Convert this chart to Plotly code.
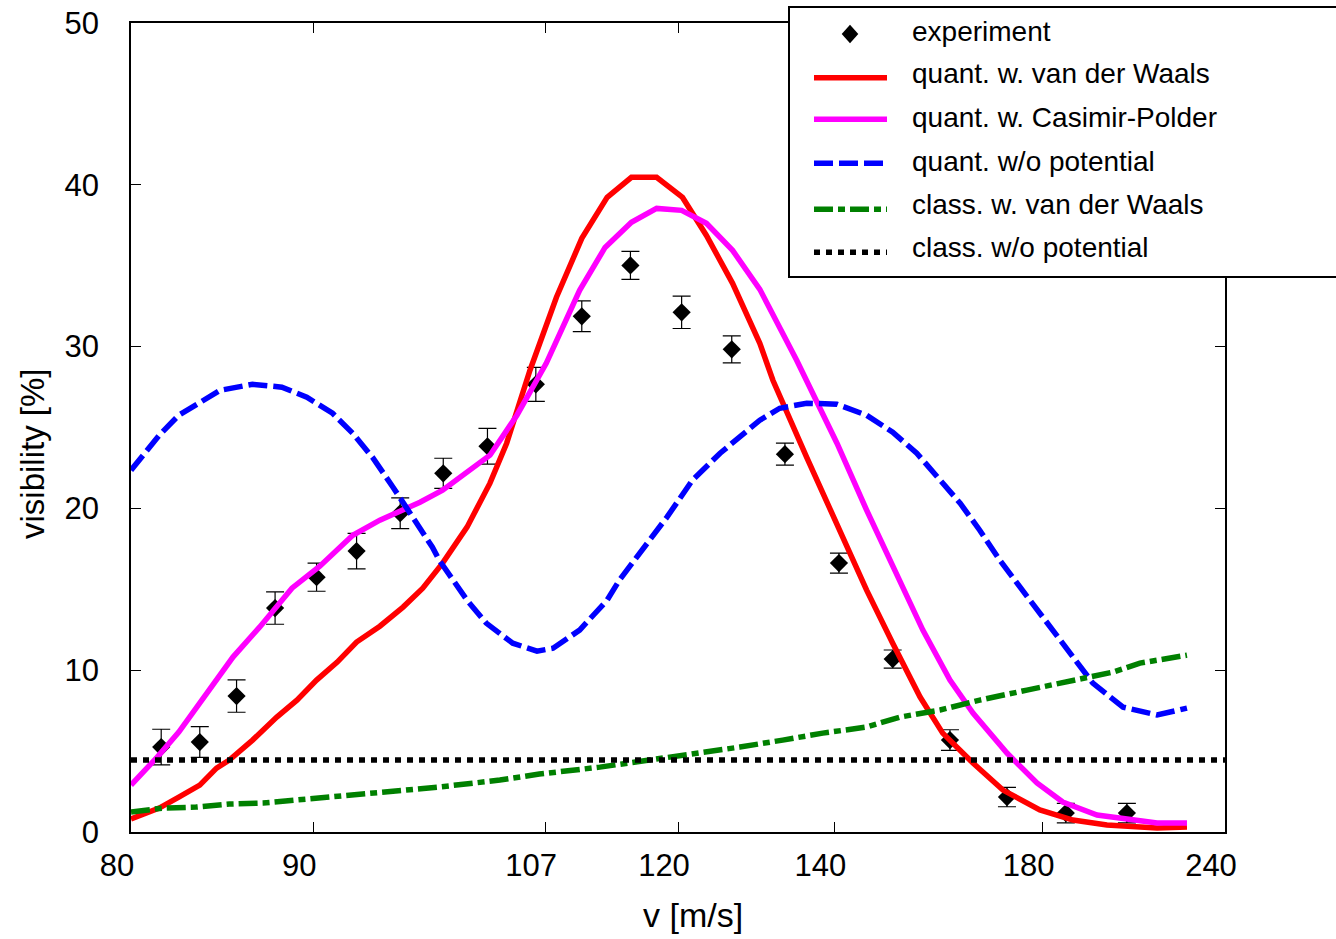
import plotly.graph_objects as go

FONT = "Liberation Sans, Arial, Helvetica, sans-serif"

# ---------------- data ----------------
# measured fringe visibility (%) with statistical errors
exp_v = [81.5, 83.5, 85.5, 87.7, 90.2, 92.75, 95.7, 98.8, 102.2, 106.2, 110.3,
         115.0, 120.4, 126.2, 133.0, 140.7, 149.3, 159.7, 171.6, 185.9, 203.5]
exp_vis = [5.25, 5.56, 8.40, 13.84, 15.75, 17.36, 19.70, 22.17, 23.84, 27.67, 31.87,
           35.02, 32.12, 29.83, 23.35, 16.62, 10.69, 5.68, 2.16, 1.17, 1.17]
exp_err = [1.1, 0.95, 1.0, 1.0, 0.87, 1.1, 0.95, 0.93, 1.1, 1.05, 0.95,
           0.87, 1.0, 0.83, 0.68, 0.62, 0.56, 0.64, 0.6, 0.6, 0.6]

# quantum model with van der Waals potential
vdw_v = [80.0, 81.4, 82.4, 83.5, 84.4, 85.1, 86.4, 87.8, 89.0, 90.2,
         91.5, 92.75, 94.3, 95.9, 97.3, 98.75, 100.6, 102.4, 103.75, 105.7,
         108.0, 110.3, 112.7, 115.1, 117.7, 120.5, 123.2, 126.3, 129.7, 131.4,
         136.0, 140.4, 145.0, 149.3, 154.1, 158.3, 164.3, 170.7, 179.3, 187.8,
         197.4, 213.5, 224.4]
vdw_vis = [0.80, 1.48, 2.16, 2.90, 3.95, 4.45, 5.68, 7.10, 8.15, 9.39,
           10.50, 11.74, 12.72, 13.90, 15.07, 16.62, 18.84, 21.56, 24.03, 28.54,
           33.05, 36.69, 39.22, 40.46, 40.46, 39.22, 36.87, 33.91, 30.20, 27.92,
           23.16, 19.09, 14.95, 11.67, 8.34, 6.11, 4.26, 2.59, 1.36, 0.74,
           0.43, 0.25, 0.31]

# quantum model with Casimir-Polder potential
cp_v = [80.0, 81.3, 82.4, 83.9, 85.3, 86.8, 88.7, 90.4, 92.5, 94.3,
        97.1, 98.75, 100.3, 102.4, 104.6, 107.1, 110.1, 112.5, 115.1, 117.7,
        120.4, 123.2, 126.3, 129.7, 134.6, 140.4, 145.0, 149.3, 154.6, 159.7,
        164.3, 171.6, 178.6, 185.1, 194.5, 213.5, 224.4]
cp_vis = [2.90, 4.63, 6.18, 8.59, 10.81, 12.66, 15.07, 16.43, 18.34, 19.27,
          20.38, 21.12, 22.05, 23.29, 25.76, 28.97, 33.48, 36.13, 37.68, 38.54,
          38.42, 37.62, 35.95, 33.54, 29.15, 24.03, 19.89, 16.37, 12.48, 9.39,
          7.35, 4.88, 3.03, 1.85, 1.05, 0.56, 0.56]

# quantum model without surface potential
free_v = [80.0, 81.4, 82.4, 83.5, 84.6, 86.4, 88.1, 89.6, 91.2, 92.5,
          93.8, 95.2, 96.6, 98.0, 98.5, 100.6, 102.1, 104.25, 106.3, 107.7,
          110.1, 112.7, 113.9, 118.8, 121.6, 124.8, 129.7, 132.3, 136.0, 140.4,
          145.0, 149.3, 153.5, 157.8, 161.7, 165.7, 170.0, 174.6, 179.3, 184.4,
          189.7, 193.3, 202.3, 213.5, 224.4]
free_vis = [22.36, 24.52, 25.76, 26.56, 27.30, 27.67, 27.49, 26.87, 25.88, 24.64,
            23.16, 21.31, 19.46, 17.60, 16.80, 14.33, 12.91, 11.67, 11.18, 11.36,
            12.48, 14.33, 15.57, 19.46, 21.74, 23.41, 25.45, 26.19, 26.50, 26.44,
            25.76, 24.71, 23.41, 21.74, 20.32, 18.65, 16.80, 15.13, 13.53, 11.86,
            10.19, 9.20, 7.72, 7.23, 7.66]

# classical model with van der Waals potential
cl_vdw_v = [80.0, 81.6, 83.3, 85.1, 87.0, 89.0, 91.2, 93.6, 95.9, 98.5,
            103.2, 106.5, 112.0, 120.2, 127.2, 132.7, 138.3, 145.0, 150.5, 157.8,
            165.7, 176.2, 187.8, 199.2, 207.7, 224.4]
cl_vdw_vis = [1.24, 1.48, 1.54, 1.73, 1.79, 1.98, 2.22, 2.41, 2.59, 2.78,
              3.21, 3.58, 4.01, 4.69, 5.25, 5.68, 6.11, 6.49, 7.10, 7.54,
              8.15, 8.77, 9.39, 9.88, 10.44, 10.93]

# classical model without potential (constant)
cl_free_v = [80.0, 240.0]
cl_free_vis = [4.45, 4.45]

x_ticks = [80, 90, 107, 120, 140, 180, 240]
y_ticks = [0, 10, 20, 30, 40, 50]

series_names = ["experiment", "quant. w. van der Waals", "quant. w. Casimir-Polder",
                "quant. w/o potential", "class. w. van der Waals", "class. w/o potential"]
x_title = "v [m/s]"
y_title = "visibility [%]"


# the velocity axis is linear in 1/v (proportional to the de Broglie wavelength)
def inv(vs):
    return [1000.0 / v for v in vs]


# ---------------- styles ----------------
colors = ["black", "#ff0000", "#ff00ff", "#0000ff", "#008000", "black"]
dashes = [None, "solid", "solid", "19px,6px", "19px,5px,7px,5px", "6px,6px"]
LW = 5.5

fig = go.Figure()

fig.add_trace(go.Scatter(
    x=inv(exp_v), y=exp_vis, mode="markers", name=series_names[0], showlegend=False,
    marker=dict(symbol="diamond", size=14, color="black", line=dict(width=0)),
    error_y=dict(type="data", array=exp_err, color="black", thickness=1.2, width=9),
))

curves = [(vdw_v, vdw_vis), (cp_v, cp_vis), (free_v, free_vis),
          (cl_vdw_v, cl_vdw_vis), (cl_free_v, cl_free_vis)]
for i, (vv, yy) in enumerate(curves, start=1):
    fig.add_trace(go.Scatter(
        x=inv(vv), y=yy, mode="lines", name=series_names[i], showlegend=False,
        line=dict(color=colors[i], width=LW, dash=dashes[i]),
    ))

# ---------------- geometry ----------------
FIG_W, FIG_H = 1336, 939
L, R, T, B = 131, 111, 23, 107
PW = FIG_W - L - R
PH = FIG_H - T - B


def fx(p):
    return (p - L) / PW


def fy(p):
    return (T + PH - p) / PH


# ---------------- hand-drawn key box ----------------
shapes = [dict(type="rect", xref="paper", yref="paper", layer="above",
               x0=fx(789), x1=fx(1400), y0=fy(277), y1=fy(7),
               line=dict(color="black", width=2), fillcolor="white")]
annotations = []

row_y = [34, 77.7, 119.3, 163.3, 209.3, 252.3]
text_y = [31, 73.5, 117.5, 161.5, 205, 247.5]

# diamond symbol for the experiment entry
cx, cy, hw, hh = 850, row_y[0], 8.3, 9.2
shapes.append(dict(
    type="path", xref="paper", yref="paper", layer="above",
    path=(f"M {fx(cx - hw)},{fy(cy)} L {fx(cx)},{fy(cy - hh)} "
          f"L {fx(cx + hw)},{fy(cy)} L {fx(cx)},{fy(cy + hh)} Z"),
    fillcolor="black", line=dict(width=0)))

for i in range(1, 6):
    shapes.append(dict(
        type="line", xref="paper", yref="paper", layer="above",
        x0=fx(814), x1=fx(887), y0=fy(row_y[i]), y1=fy(row_y[i]),
        line=dict(color=colors[i], width=LW, dash=dashes[i])))

for i, name in enumerate(series_names):
    annotations.append(dict(
        text=name, xref="paper", yref="paper", x=fx(910), y=fy(text_y[i]),
        xanchor="left", yanchor="middle", showarrow=False,
        font=dict(family=FONT, size=28, color="black")))

# axis titles
annotations.append(dict(
    text=x_title, xref="paper", yref="paper", x=fx(693), y=fy(915),
    xanchor="center", yanchor="middle", showarrow=False,
    font=dict(family=FONT, size=34, color="black")))
annotations.append(dict(
    text=y_title, xref="paper", yref="paper", x=fx(32), y=fy(454),
    xanchor="center", yanchor="middle", textangle=-90, showarrow=False,
    font=dict(family=FONT, size=33, color="black")))

axis_common = dict(
    ticks="inside", ticklen=10, tickwidth=1, tickcolor="black",
    showline=True, linecolor="black", linewidth=1.5, mirror="ticks",
    showgrid=False, zeroline=False,
    tickfont=dict(family=FONT, size=31, color="black"),
    automargin=False,
)

fig.update_layout(
    template="none",
    width=FIG_W, height=FIG_H,
    margin=dict(l=L, r=R, t=T, b=B, pad=0),
    paper_bgcolor="white", plot_bgcolor="white",
    font=dict(family=FONT, color="black"),
    showlegend=False,
    xaxis=dict(
        range=[1000.0 / 80, 1000.0 / 240],
        tickvals=inv(x_ticks), ticktext=[str(t) for t in x_ticks],
        ticklabelshift=14, ticklabelstandoff=5,
        **axis_common,
    ),
    yaxis=dict(
        range=[0, 50], tickvals=y_ticks,
        ticklabelstandoff=24,
        **axis_common,
    ),
    shapes=shapes,
    annotations=annotations,
)

fig.write_html("out.html")
